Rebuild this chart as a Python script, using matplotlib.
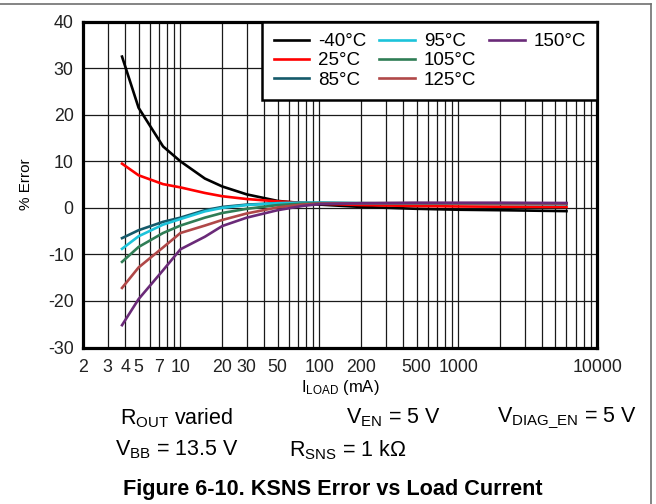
import matplotlib
matplotlib.use("Agg")
import matplotlib.pyplot as plt
from matplotlib.lines import Line2D
from matplotlib.ticker import FixedLocator, NullLocator, NullFormatter

plt.rcParams['font.family'] = ['Liberation Sans', 'DejaVu Sans']
plt.rcParams['mathtext.fontset'] = 'custom'
plt.rcParams['mathtext.rm'] = 'Liberation Sans'
plt.rcParams['mathtext.it'] = 'Liberation Sans:italic'
plt.rcParams['mathtext.bf'] = 'Liberation Sans:bold'
plt.rcParams['axes.unicode_minus'] = False

# ---- data ----
load_ma = [3.8, 5, 7.5, 10, 15, 20, 30, 50, 75, 100, 200, 500, 1000, 2000, 6000]
err_m40 = [32.5, 21.5, 13.2, 10.0, 6.3, 4.6, 2.9, 1.5, 1.0, 0.7, 0.2, -0.2, -0.4, -0.5, -0.7]
err_25 = [9.5, 7.0, 5.1, 4.4, 3.2, 2.5, 1.9, 1.4, 1.1, 0.9, 0.6, 0.4, 0.3, 0.25, 0.2]
err_85 = [-6.5, -4.8, -3.0, -2.1, -0.5, 0.2, 0.7, 1.0, 1.1, 1.1, 1.0, 0.9, 0.9, 0.85, 0.8]
err_95 = [-8.8, -6.1, -3.6, -2.4, -0.75, 0.0, 0.6, 1.0, 1.1, 1.1, 1.0, 0.95, 0.9, 0.9, 0.85]
err_105 = [-11.6, -8.4, -5.4, -3.8, -2.1, -1.1, -0.2, 0.6, 0.9, 1.0, 1.0, 1.0, 0.95, 0.95, 0.9]
err_125 = [-17.2, -12.8, -8.5, -5.4, -3.8, -2.6, -1.2, 0.1, 0.7, 0.9, 1.0, 1.0, 1.0, 1.0, 0.95]
err_150 = [-25.2, -19.6, -13.4, -8.9, -6.2, -3.9, -2.1, -0.5, 0.4, 0.8, 1.0, 1.1, 1.1, 1.1, 1.05]

series_labels = ['-40°C', '25°C', '85°C', '95°C', '105°C', '125°C', '150°C']
series_values = [err_m40, err_25, err_85, err_95, err_105, err_125, err_150]
series_colors = ['#000000', '#ff0000', '#155a6a', '#1cc3da', '#2f7d55', '#b04848', '#6a2a78']

xtick_vals = [2, 3, 4, 5, 7, 10, 20, 30, 50, 100, 200, 500, 1000, 10000]
xtick_labels = ['2', '3', '4', '5', '7', '10', '20', '30', '50', '100', '200', '500', '1000', '10000']
ytick_vals = [-30, -20, -10, 0, 10, 20, 30, 40]

# ---- figure ----
fig = plt.figure(figsize=(6.56, 5.04), dpi=100)
ax = fig.add_axes([83.3 / 656, 1 - 347.5 / 504, (597.3 - 83.3) / 656, (347.5 - 21.7) / 504])

# grid lines (log decades 1..9)
grid_x = [m * 10 ** e for e in range(0, 5) for m in range(1, 10)]
grid_x = [g for g in grid_x if 2 <= g <= 10000]
for g in grid_x:
    ax.axvline(g, color='#1a1a1a', lw=0.9, zorder=1)
for g in ytick_vals:
    ax.axhline(g, color='#1a1a1a', lw=0.9, zorder=1)

lines = []
for lab, vals, col in zip(series_labels, series_values, series_colors):
    ln, = ax.plot(load_ma, vals, color=col, lw=1.9, label=lab, zorder=3)
    lines.append(ln)

ax.set_xscale('log')
ax.set_xlim(2, 10000)
ax.set_ylim(-30, 40)
ax.xaxis.set_major_locator(FixedLocator(xtick_vals))
ax.set_xticklabels(xtick_labels)
ax.xaxis.set_minor_locator(NullLocator())
ax.xaxis.set_minor_formatter(NullFormatter())
ax.set_yticks(ytick_vals)
ax.tick_params(axis='both', length=0, labelsize=12.8, colors='#222222')
ax.tick_params(axis='x', pad=8)
ax.tick_params(axis='y', pad=7)
for s in ax.spines.values():
    s.set_linewidth(2.3)
    s.set_color('black')
    s.set_zorder(5)

ax.set_ylabel('% Error', fontsize=11, labelpad=11)
ax.set_xlabel(r'$\mathrm{I_{LOAD}}$ (mA)', fontsize=12, labelpad=2)

# legend: 3 columns filled 3/3/1 using invisible spacers
blank1 = Line2D([], [], color='none')
blank2 = Line2D([], [], color='none')
handles = lines + [blank1, blank2]
labels = series_labels + ['', '']
leg = ax.legend(handles=handles, labels=labels, ncol=3, loc='upper right', bbox_to_anchor=(1, 1),
                borderaxespad=0, fontsize=13.5, frameon=True, fancybox=False,
                edgecolor='black', framealpha=1, handlelength=1.9, handletextpad=0.48,
                columnspacing=0.68, labelspacing=0.12, borderpad=0.6)
leg.get_frame().set_linewidth(1.8)
leg.set_zorder(6)

# condition text
fs = 15.5
fig.text(177 / 656, 1 - 418 / 504, r'$\mathrm{R_{OUT}}$ varied', ha='center', va='center', fontsize=fs)
fig.text(393 / 656, 1 - 418 / 504, r'$\mathrm{V_{EN}}$ = 5 V', ha='center', va='center', fontsize=fs)
fig.text(567 / 656, 1 - 418 / 504, r'$\mathrm{V_{DIAG\_EN}}$ = 5 V', ha='center', va='center', fontsize=fs)
fig.text(177 / 656, 1 - 450 / 504, r'$\mathrm{V_{BB}}$ = 13.5 V', ha='center', va='center', fontsize=fs)
fig.text(348 / 656, 1 - 450 / 504, r'$\mathrm{R_{SNS}}$ = 1 kΩ', ha='center', va='center', fontsize=fs)
fig.text(333 / 656, 1 - 489 / 504, 'Figure 6-10. KSNS Error vs Load Current', ha='center', va='center',
         fontsize=15.6, fontweight='bold')

# outer page border (top and right)
fig.add_artist(Line2D([0, 650.5 / 656], [1 - 4 / 504, 1 - 4 / 504], transform=fig.transFigure,
                      color='#707070', lw=1.2))
fig.add_artist(Line2D([650.5 / 656, 650.5 / 656], [1 - 4 / 504, 0], transform=fig.transFigure,
                      color='#707070', lw=1.2))

fig.savefig('out.png', dpi=100)
